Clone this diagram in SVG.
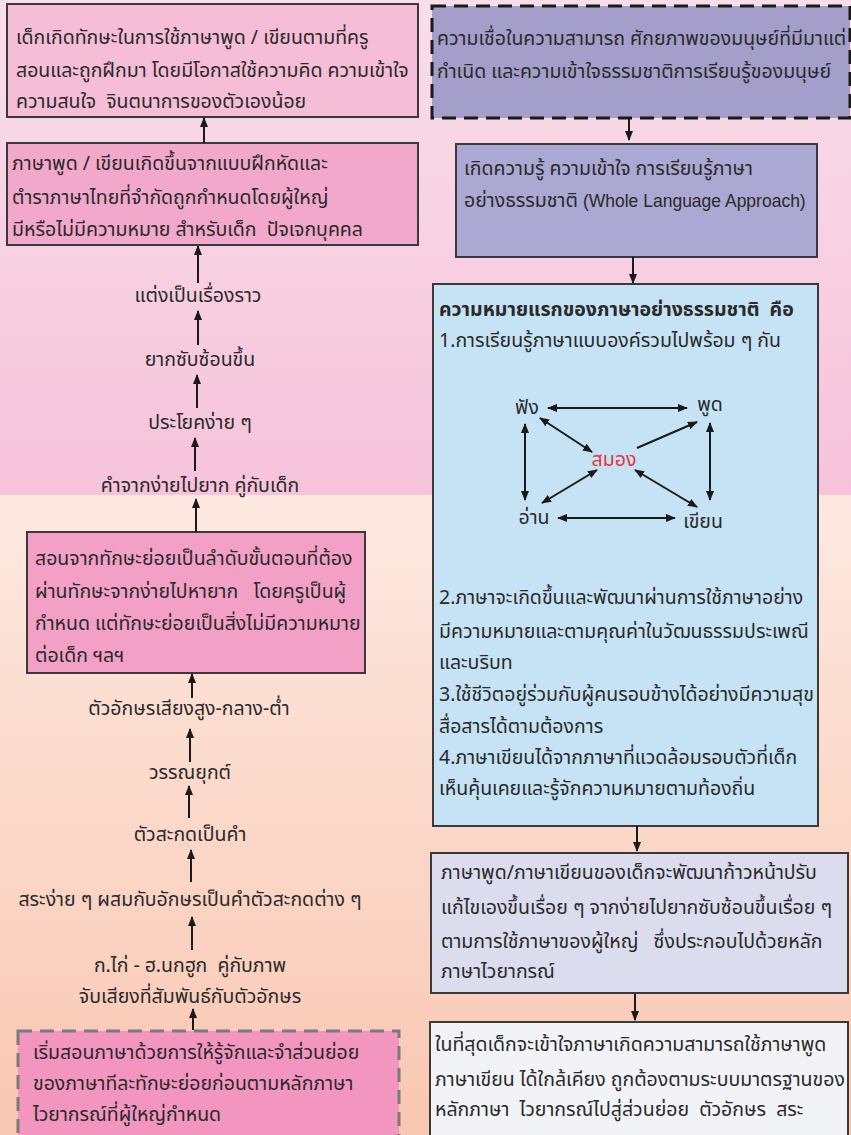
<svg xmlns="http://www.w3.org/2000/svg" width="851" height="1135" viewBox="0 0 851 1135" xml:space="preserve">
<defs>
<linearGradient id="gTop" x1="0" y1="0" x2="0" y2="1"><stop offset="0" stop-color="#f9dee9"/><stop offset="1" stop-color="#f6c3da"/></linearGradient>
<linearGradient id="gBot" x1="0" y1="0" x2="0" y2="1"><stop offset="0" stop-color="#fde9e1"/><stop offset="1" stop-color="#f9c7b2"/></linearGradient>
<marker id="ah" viewBox="0 0 10 10" refX="9" refY="5" markerWidth="10" markerHeight="10" markerUnits="userSpaceOnUse" orient="auto-start-reverse"><path d="M0,1 L10,5 L0,9 z" fill="#1a1a1a"/></marker>
<style>
text{font-family:"Noto Sans Thai","Noto Sans","DejaVu Sans",sans-serif;font-size:19.5px;fill:#2a2a2a;white-space:pre}
.lat{font-family:"Liberation Sans",Arial,sans-serif;font-size:17.5px}
.b{font-weight:bold}
.red{fill:#e8333f}
.box{stroke:#3a3a3a;stroke-width:2}
.dk{stroke:#1a1a1a;stroke-width:3;stroke-dasharray:14 8}
.dg{stroke:#7a7a7a;stroke-width:3;stroke-dasharray:14 8}
.ln{stroke:#1a1a1a;stroke-width:2;fill:none}
.c{text-anchor:middle}
</style>
</defs>
<rect x="0" y="0" width="851" height="495" fill="url(#gTop)"/>
<rect x="0" y="495" width="851" height="640" fill="url(#gBot)"/>

<g id="n-left1"><rect class="box" x="7" y="4" width="411" height="113" fill="#f5bdd6"/>
<text x="16" y="44">เด็กเกิดทักษะในการใช้ภาษาพูด / เขียนตามที่ครู</text>
<text x="16" y="77">สอนและถูกฝึกมา โดยมีโอกาสใช้ความคิด ความเข้าใจ</text>
<text x="16" y="108">ความสนใจ  จินตนาการของตัวเองน้อย</text></g>

<g id="n-left2"><rect class="box" x="7" y="143" width="411" height="102" fill="#f2a8cb"/>
<text x="12" y="170">ภาษาพูด / เขียนเกิดขึ้นจากแบบฝึกหัดและ</text>
<text x="12" y="204">ตำราภาษาไทยที่จำกัดถูกกำหนดโดยผู้ใหญ่</text>
<text x="12" y="236">มีหรือไม่มีความหมาย สำหรับเด็ก  ปัจเจกบุคคล</text></g>

<g id="n-l1"><text class="c" x="198" y="302">แต่งเป็นเรื่องราว</text></g>
<g id="n-l2"><text class="c" x="200" y="366">ยากซับซ้อนขึ้น</text></g>
<g id="n-l3"><text class="c" x="200" y="429">ประโยคง่าย ๆ</text></g>
<g id="n-l4"><text class="c" x="200" y="492">คำจากง่ายไปยาก คู่กับเด็ก</text></g>

<g id="n-left3"><rect class="box" x="27" y="532" width="338" height="141" fill="#f2a0c6"/>
<text x="35" y="565">สอนจากทักษะย่อยเป็นลำดับขั้นตอนที่ต้อง</text>
<text x="35" y="598">ผ่านทักษะจากง่ายไปหายาก   โดยครูเป็นผู้</text>
<text x="35" y="630">กำหนด แต่ทักษะย่อยเป็นสิ่งไม่มีความหมาย</text>
<text x="35" y="662">ต่อเด็ก ฯลฯ</text></g>

<g id="n-l5"><text class="c" x="189" y="715">ตัวอักษรเสียงสูง-กลาง-ต่ำ</text></g>
<g id="n-l6"><text class="c" x="190" y="779">วรรณยุกต์</text></g>
<g id="n-l7"><text class="c" x="190" y="841">ตัวสะกดเป็นคำ</text></g>
<g id="n-l8"><text class="c" x="190" y="906">สระง่าย ๆ ผสมกับอักษรเป็นคำตัวสะกดต่าง ๆ</text></g>
<g id="n-l9"><text class="c" x="190" y="972">ก.ไก่ - ฮ.นกฮูก  คู่กับภาพ</text>
<text class="c" x="190" y="1003">จับเสียงที่สัมพันธ์กับตัวอักษร</text></g>

<g id="n-left4"><rect class="dg" x="18" y="1031" width="381" height="110" fill="#f296c0"/>
<text x="33" y="1059">เริ่มสอนภาษาด้วยการให้รู้จักและจำส่วนย่อย</text>
<text x="33" y="1090">ของภาษาทีละทักษะย่อยก่อนตามหลักภาษา</text>
<text x="33" y="1121">ไวยากรณ์ที่ผู้ใหญ่กำหนด</text></g>

<g id="n-right1"><rect class="dk" x="432" y="6" width="418" height="112" fill="#a49ecb"/>
<text x="437" y="45">ความเชื่อในความสามารถ ศักยภาพของมนุษย์ที่มีมาแต่</text>
<text x="437" y="78">กำเนิด และความเข้าใจธรรมชาติการเรียนรู้ของมนุษย์</text></g>

<g id="n-right2"><rect class="box" x="456" y="144" width="361" height="113" fill="#aba8d4"/>
<text x="464" y="175">เกิดความรู้ ความเข้าใจ การเรียนรู้ภาษา</text>
<text x="464" y="207">อย่างธรรมชาติ <tspan class="lat">(Whole Language Approach)</tspan></text></g>

<g id="n-right3"><rect class="box" x="433" y="284" width="385" height="542" fill="#c5e3f4"/>
<text class="b" x="439" y="316">ความหมายแรกของภาษาอย่างธรรมชาติ  คือ</text>
<text x="439" y="347">1.การเรียนรู้ภาษาแบบองค์รวมไปพร้อม ๆ กัน</text>
<text x="439" y="604">2.ภาษาจะเกิดขึ้นและพัฒนาผ่านการใช้ภาษาอย่าง</text>
<text x="439" y="638">มีความหมายและตามคุณค่าในวัฒนธรรมประเพณี</text>
<text x="439" y="669">และบริบท</text>
<text x="439" y="701">3.ใช้ชีวิตอยู่ร่วมกับผู้คนรอบข้างได้อย่างมีความสุข</text>
<text x="439" y="733">สื่อสารได้ตามต้องการ</text>
<text x="439" y="764">4.ภาษาเขียนได้จากภาษาที่แวดล้อมรอบตัวที่เด็ก</text>
<text x="439" y="795">เห็นคุ้นเคยและรู้จักความหมายตามท้องถิ่น</text></g>

<g id="n-fang"><text class="c" x="527" y="414">ฟัง</text></g>
<g id="n-phut"><text class="c" x="710" y="411">พูด</text></g>
<g id="n-samong"><text class="c red" x="614" y="466">สมอง</text></g>
<g id="n-an"><text class="c" x="534" y="524">อ่าน</text></g>
<g id="n-khian"><text class="c" x="703" y="528">เขียน</text></g>

<g id="n-right4"><rect class="box" x="431" y="853" width="417" height="140" fill="#dcdcef"/>
<text x="441" y="879">ภาษาพูด/ภาษาเขียนของเด็กจะพัฒนาก้าวหน้าปรับ</text>
<text x="441" y="914">แก้ไขเองขึ้นเรื่อย ๆ จากง่ายไปยากซับซ้อนขึ้นเรื่อย ๆ</text>
<text x="441" y="948">ตามการใช้ภาษาของผู้ใหญ่   ซึ่งประกอบไปด้วยหลัก</text>
<text x="441" y="978">ภาษาไวยากรณ์</text></g>

<g id="n-right5"><rect class="box" x="430" y="1022" width="418" height="120" fill="#f2f3f7"/>
<text x="435" y="1051">ในที่สุดเด็กจะเข้าใจภาษาเกิดความสามารถใช้ภาษาพูด</text>
<text x="435" y="1086">ภาษาเขียน ได้ใกล้เคียง ถูกต้องตามระบบมาตรฐานของ</text>
<text x="435" y="1116">หลักภาษา  ไวยากรณ์ไปสู่ส่วนย่อย  ตัวอักษร  สระ</text></g>

<g id="connectors">
<line class="ln" x1="204" y1="143" x2="204" y2="118" marker-end="url(#ah)"/>
<line class="ln" x1="198" y1="283" x2="198" y2="246" marker-end="url(#ah)"/>
<line class="ln" x1="198" y1="345" x2="198" y2="311" marker-end="url(#ah)"/>
<line class="ln" x1="197" y1="408" x2="197" y2="375" marker-end="url(#ah)"/>
<line class="ln" x1="195" y1="471" x2="195" y2="438" marker-end="url(#ah)"/>
<line class="ln" x1="196" y1="532" x2="196" y2="499" marker-end="url(#ah)"/>
<line class="ln" x1="192" y1="698" x2="192" y2="674" marker-end="url(#ah)"/>
<line class="ln" x1="190" y1="762" x2="190" y2="729" marker-end="url(#ah)"/>
<line class="ln" x1="189" y1="818" x2="189" y2="786" marker-end="url(#ah)"/>
<line class="ln" x1="191" y1="882" x2="191" y2="850" marker-end="url(#ah)"/>
<line class="ln" x1="192" y1="950" x2="192" y2="917" marker-end="url(#ah)"/>
<line class="ln" x1="193" y1="1030" x2="193" y2="1009" marker-end="url(#ah)"/>
<line class="ln" x1="629" y1="118" x2="629" y2="140" marker-end="url(#ah)"/>
<line class="ln" x1="633" y1="257" x2="633" y2="283" marker-end="url(#ah)"/>
<line class="ln" x1="637" y1="826" x2="637" y2="851" marker-end="url(#ah)"/>
<line class="ln" x1="635" y1="994" x2="635" y2="1020" marker-end="url(#ah)"/>
<line class="ln" x1="548" y1="408" x2="687" y2="408" marker-start="url(#ah)" marker-end="url(#ah)"/>
<line class="ln" x1="525" y1="424" x2="525" y2="500" marker-start="url(#ah)" marker-end="url(#ah)"/>
<line class="ln" x1="710" y1="423" x2="710" y2="500" marker-start="url(#ah)" marker-end="url(#ah)"/>
<line class="ln" x1="558" y1="518" x2="675" y2="518" marker-start="url(#ah)" marker-end="url(#ah)"/>
<line class="ln" x1="540" y1="418" x2="592" y2="452" marker-start="url(#ah)" marker-end="url(#ah)"/>
<line class="ln" x1="637" y1="448" x2="697" y2="422" marker-end="url(#ah)"/>
<line class="ln" x1="597" y1="470" x2="542" y2="503" marker-start="url(#ah)" marker-end="url(#ah)"/>
<line class="ln" x1="635" y1="470" x2="697" y2="507" marker-start="url(#ah)" marker-end="url(#ah)"/>
</g>
</svg>
